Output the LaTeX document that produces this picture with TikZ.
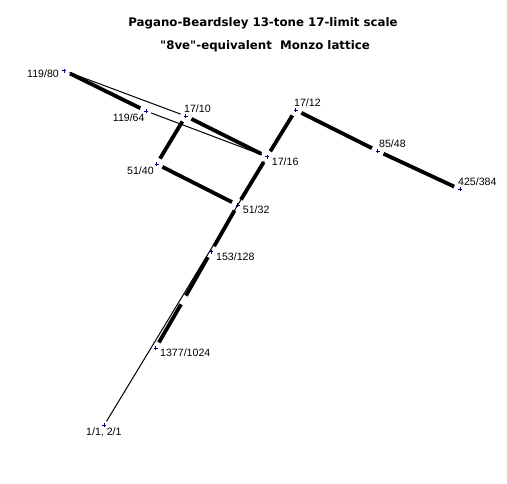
\documentclass[tikz,border=0pt]{standalone}
\usepackage{fontspec}
\setmainfont{Liberation Sans}
\newfontfamily\titlefont{DejaVu Sans}
\usetikzlibrary{shapes.misc}
\definecolor{dotblue}{RGB}{0,0,128}

\begin{document}
\begin{tikzpicture}[x=1pt,y=-1pt,
		pt/.style={draw=dotblue,cross out,rotate=45,minimum size=1.9pt,inner sep=0pt,line width=0.7pt},
		lbl/.style={anchor=base west,inner sep=0pt,font=\fontsize{10.6}{12}\selectfont},
		strong/.style={line width=3.8pt,shorten <=5pt,shorten >=5pt},
		weak/.style={line width=1pt,shorten <=4pt,shorten >=4pt}]
		% page in pixel units, y pointing down
		\fill[white] (0,0) rectangle (507,483);
		\useasboundingbox (0,0) rectangle (507,483);
		
		% title
		\node[anchor=base,inner sep=0pt,font=\titlefont\bfseries\fontsize{11.8}{14}\selectfont] (title1) at (263,26) {Pagano-Beardsley 13-tone 17-limit scale};
		\node[anchor=base,inner sep=0pt,font=\titlefont\bfseries\fontsize{11.8}{14}\selectfont] (title2) at (265,49) {"8ve"-equivalent\ \ Monzo lattice};
		
		% lattice points
		\node[pt] (n11) at (104.3,425) {};
		\node[pt] (n1716) at (267,156.7) {};
		\node[pt] (n1710) at (185.7,116) {};
		\node[pt] (n1712) at (295.7,110) {};
		\node[pt] (n11980) at (64.3,70.7) {};
		\node[pt] (n11964) at (146,111) {};
		\node[pt] (n5140) at (156.7,164) {};
		\node[pt] (n5132) at (237.7,205) {};
		\node[pt] (n153128) at (211,251.7) {};
		\node[pt] (n13771024) at (155.7,348) {};
		\node[pt] (n8548) at (377.7,151) {};
		\node[pt] (n425384) at (460,189.3) {};
		\coordinate (m459) at (183.5,300); % hidden step between 153/128 and 1377/1024
		
		% 7- and 17-axis steps
		\draw[weak,shorten <=3pt] (n11) -- (n1716);
		\draw[weak] (n11980) -- (n1710);
		\draw[weak] (n11964) -- (n1716);
		
		% 3- and 5-axis steps
		\draw[strong] (n11980) -- (n11964);
		\draw[strong] (n1710) -- (n1716);
		\draw[strong] (n1710) -- (n5140);
		\draw[strong] (n5140) -- (n5132);
		\draw[strong] (n1716) -- (n5132);
		\draw[strong] (n1716) -- (n1712);
		\draw[strong] (n1712) -- (n8548);
		\draw[strong] (n8548) -- (n425384);
		\draw[strong] (n5132) -- (n153128);
		\draw[strong] (n153128) -- (m459);
		\draw[strong] (m459) -- (n13771024);
		
		% labels
		\node[lbl] (l11980) at (27,77) {119/80};
		\node[lbl] (l11964) at (112.7,121) {119/64};
		\node[lbl] (l1710) at (184,112) {17/10};
		\node[lbl] (l1716) at (271.7,165) {17/16};
		\node[lbl] (l1712) at (294,106) {17/12};
		\node[lbl] (l5140) at (127,174) {51/40};
		\node[lbl] (l5132) at (242.7,213) {51/32};
		\node[lbl] (l153128) at (216,260) {153/128};
		\node[lbl] (l13771024) at (160,356.7) {1377/1024};
		\node[lbl] (l11) at (86,435.5) {1/1, 2/1};
		\node[lbl] (l8548) at (379,147) {85/48};
		\node[lbl] (l425384) at (458,185.7) {425/384};
	\end{tikzpicture}
\end{document}
